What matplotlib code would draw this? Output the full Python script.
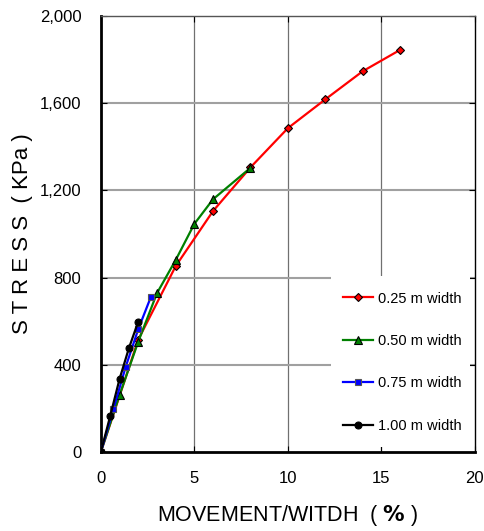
import matplotlib
matplotlib.use("Agg")
import matplotlib.pyplot as plt
from matplotlib.patches import Rectangle

plt.rcParams['font.family'] = ['Liberation Sans', 'DejaVu Sans']

# Data
x_025 = [0, 2, 4, 6, 8, 10, 12, 14, 16]
y_025 = [0, 515, 852, 1105, 1305, 1485, 1617, 1746, 1844]
x_050 = [0, 1, 2, 3, 4, 5, 6, 8]
y_050 = [0, 261, 506, 728, 880, 1046, 1159, 1303]
x_075 = [0, 0.67, 1.33, 2.0, 2.67]
y_075 = [0, 197, 391, 563, 710]
x_100 = [0, 0.5, 1.0, 1.5, 2.0]
y_100 = [0, 165, 335, 476, 598]
labels = ["0.25 m width", "0.50 m width", "0.75 m width", "1.00 m width"]
xticks = [0, 5, 10, 15, 20]
yticks = [0, 400, 800, 1200, 1600, 2000]
yticklabels = ["0", "400", "800", "1,200", "1,600", "2,000"]

fig = plt.figure(figsize=(4.85, 5.31), dpi=100)
ax = fig.add_axes([0.208, 0.149, 0.771, 0.821])

ax.plot(x_025, y_025, color='#ff0000', lw=1.6, marker='D', ms=4.5, mfc='#ff0000', mec='black', mew=0.8, label=labels[0], zorder=3)
ax.plot(x_050, y_050, color='#008000', lw=1.6, marker='^', ms=6, mfc='#008000', mec='black', mew=0.8, label=labels[1], zorder=3)
ax.plot(x_075, y_075, color='#0000ff', lw=1.6, marker='s', ms=5, mfc='#0000ff', mec='#555555', mew=0.8, label=labels[2], zorder=4)
ax.plot(x_100, y_100, color='black', lw=1.6, marker='o', ms=5, mfc='black', mec='black', mew=0.8, label=labels[3], zorder=5)

ax.set_xlim(0, 20)
ax.set_ylim(0, 2000)
ax.set_xticks(xticks)
ax.set_yticks(yticks)
ax.set_yticklabels(yticklabels)
ax.tick_params(direction='in', length=4, labelsize=12, top=True, right=True)
ax.tick_params(axis='y', pad=14)
ax.tick_params(axis='x', pad=14)

for v in xticks[1:-1]:
    ax.axvline(v, color='#707070', lw=0.9, zorder=1)
for v in yticks[1:-1]:
    ax.axhline(v, color='#a0a0a0', lw=1.5, zorder=1)

ax.spines['left'].set_linewidth(2)
ax.spines['bottom'].set_linewidth(2)
ax.spines['top'].set_linewidth(1)
ax.spines['top'].set_color('#555555')
ax.spines['right'].set_linewidth(1)

ax.set_xlabel(r"MOVEMENT/WITDH  ( $\mathbf{\%}$ )", fontsize=15.5, labelpad=12)
ax.set_ylabel("S T R E S S  ( KPa )", fontsize=16, labelpad=5)

# white legend area
ax.add_patch(Rectangle((0.615, 0.011), 0.372, 0.393, transform=ax.transAxes,
                       facecolor='white', edgecolor='none', zorder=2))

leg = ax.legend(loc='lower right', bbox_to_anchor=(1.022, -0.0065), frameon=False,
                fontsize=10.5, labelspacing=1.95, handlelength=2.1, handletextpad=0.3,
                borderpad=1.0)
leg.set_zorder(6)

fig.savefig("out.png", dpi=100)
